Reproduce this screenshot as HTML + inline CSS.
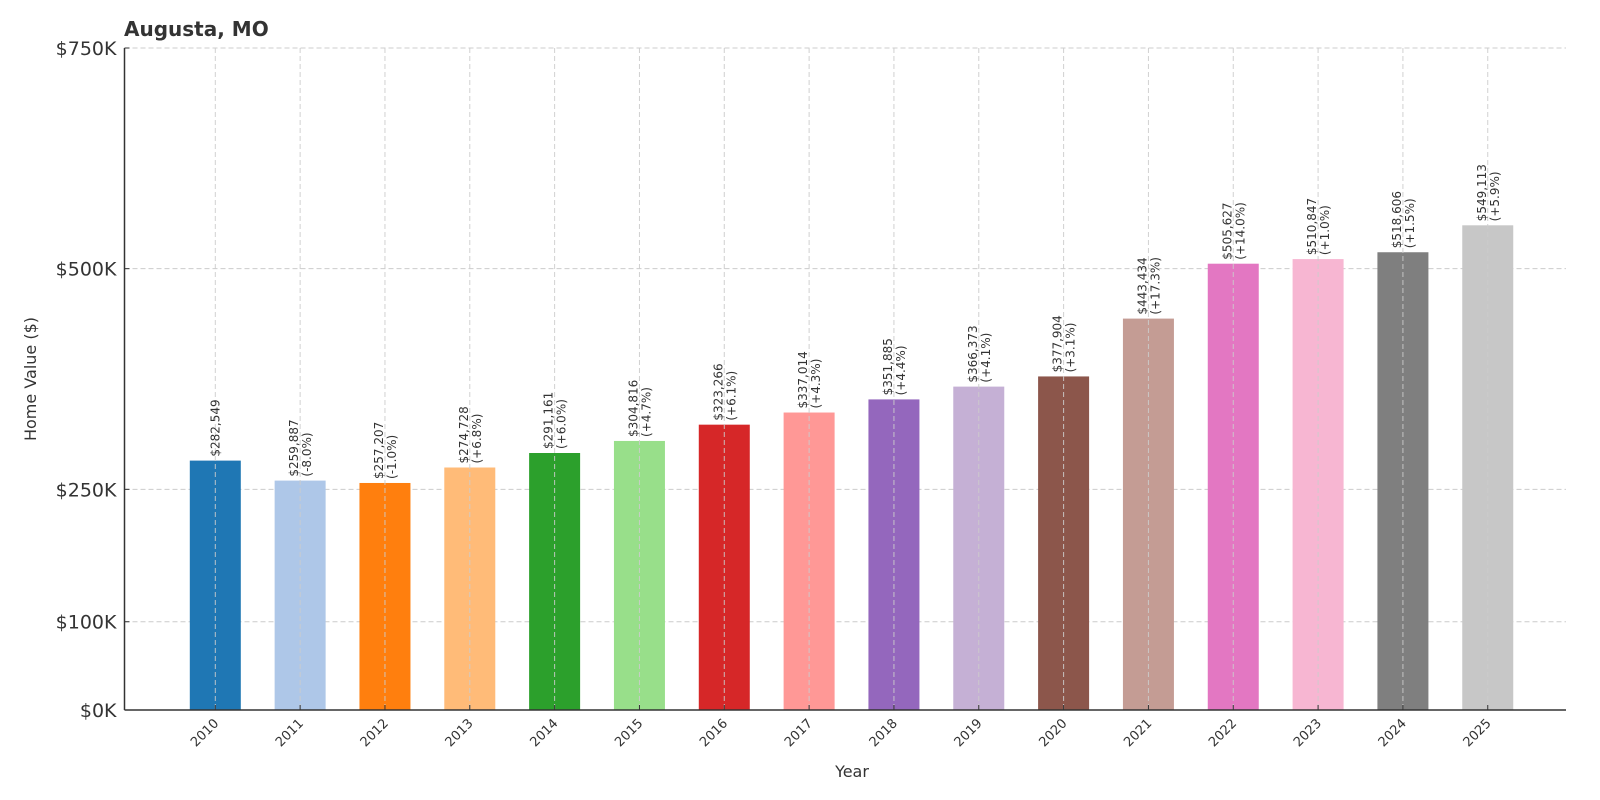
<!DOCTYPE html>
<html><head><meta charset="utf-8"><style>
html,body{margin:0;padding:0;background:#fff;}
svg{display:block;font-family:"DejaVu Sans","Liberation Sans",sans-serif;}
</style></head><body>
<svg id="chart" width="1600" height="800" viewBox="0 0 1600 800" xmlns="http://www.w3.org/2000/svg">
<text x="124" y="36" font-size="20" font-weight="bold" fill="#333">Augusta, MO</text>
<g id="grid"></g><g id="bars"></g><g id="labels"></g><g id="axes"></g>
<text transform="translate(36,379) rotate(-90)" text-anchor="middle" font-size="16" fill="#333">Home Value ($)</text>
<text x="852" y="777" text-anchor="middle" font-size="16" fill="#333">Year</text>
</svg>
<script>
const years=["2010","2011","2012","2013","2014","2015","2016","2017","2018","2019","2020","2021","2022","2023","2024","2025"];
const values=[282549,259887,257207,274728,291161,304816,323266,337014,351885,366373,377904,443434,505627,510847,518606,549113];
const changes=["","-8.0%","-1.0%","+6.8%","+6.0%","+4.7%","+6.1%","+4.3%","+4.4%","+4.1%","+3.1%","+17.3%","+14.0%","+1.0%","+1.5%","+5.9%"];
const yTicks=[0,100000,250000,500000,750000];
const yTickLabels=["$0K","$100K","$250K","$500K","$750K"];
const colors=["#1f77b4","#aec7e8","#ff7f0e","#ffbb78","#2ca02c","#98df8a","#d62728","#ff9896","#9467bd","#c5b0d5","#8c564b","#c49c94","#e377c2","#f7b6d2","#7f7f7f","#c7c7c7"];
const NS="http://www.w3.org/2000/svg";
const L=124.5,R=1566,T=48,B=710;
const y=v=>B-(v/750000)*(B-T);
const x=i=>215.3+i*84.83;
const bw=51;
function mk(t,a,p){const e=document.createElementNS(NS,t);for(const k in a)e.setAttribute(k,a[k]);p.appendChild(e);return e;}
const grid=document.getElementById('grid'),bars=document.getElementById('bars'),labels=document.getElementById('labels'),axes=document.getElementById('axes');
yTicks.forEach((v,i)=>{
 const g=mk('line',{x1:L,x2:R,y1:y(v),y2:y(v),stroke:'#ccc','stroke-dasharray':'5,3','stroke-width':1},grid);
 
 
 const t=mk('text',{x:L-8,y:y(v)+7,'text-anchor':'end','font-size':19,fill:'#333'},axes);
 t.textContent=yTickLabels[i];
 
 
 mk('line',{x1:L,x2:L+5,y1:y(v),y2:y(v),stroke:'#333'},axes);
});
years.forEach((yr,i)=>{
 const cx=x(i);
 const r=mk('rect',{x:cx-bw/2,y:y(values[i]),width:bw,height:B-y(values[i]),fill:colors[i]},bars);
 
 
 const g=mk('line',{x1:cx,x2:cx,y1:T,y2:B,stroke:'#ccc','stroke-dasharray':'5,3','stroke-width':1,opacity:0.9},labels);
 
 
 const top=y(values[i])-4;
 const two=changes[i]!=="";
 const t1=mk('text',{transform:`translate(${two?cx-2:cx+4},${top}) rotate(-90)`,'font-size':12,fill:'#333'},labels);
 t1.textContent='$'+values[i].toLocaleString('en-US');
 
 
 if(two){
  const t2=mk('text',{transform:`translate(${cx+11},${top}) rotate(-90)`,'font-size':12,fill:'#333'},labels);
  t2.textContent='('+changes[i]+')';
  
  
 }
 mk('line',{x1:cx,x2:cx,y1:B,y2:B-5,stroke:'#333'},axes);
 const xt=mk('text',{transform:`translate(${cx+4},${B+14}) rotate(-45)`,'text-anchor':'end','font-size':13,fill:'#333'},axes);
 xt.textContent=yr;
 
 
});
const ax=mk('line',{x1:L,x2:L,y1:T,y2:B,stroke:'#333','stroke-width':1.5},axes);


const bx=mk('line',{x1:L,x2:R,y1:B,y2:B,stroke:'#333','stroke-width':1.5},axes);


</script>
</body></html>
